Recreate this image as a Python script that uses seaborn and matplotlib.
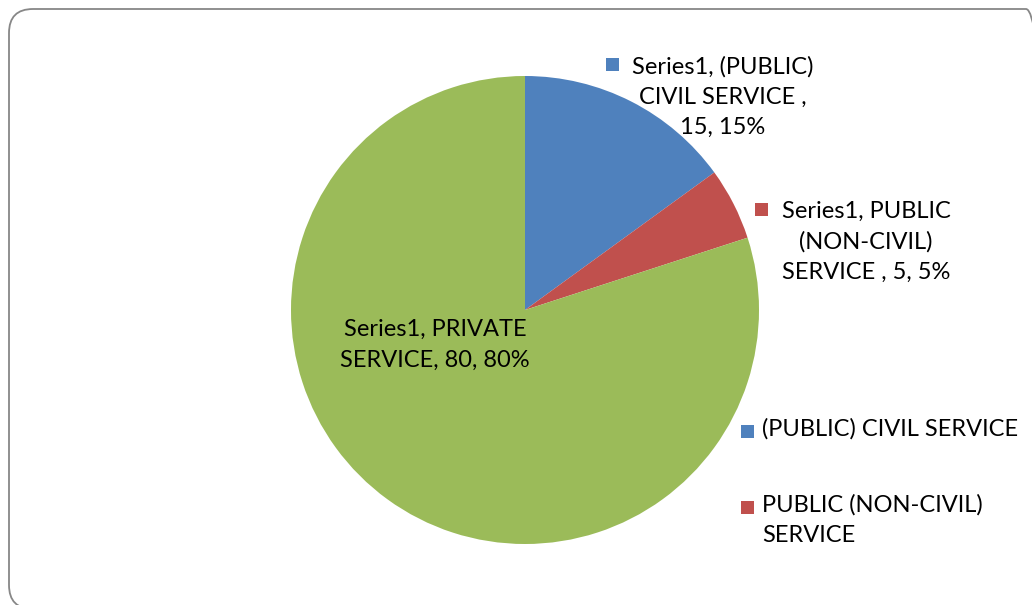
import matplotlib
matplotlib.use("Agg")
import matplotlib.pyplot as plt
import seaborn as sns
from matplotlib.patches import FancyBboxPatch, Rectangle

sns.set_theme(style="white")
plt.rcParams['font.family'] = ['Lato', 'DejaVu Sans']

categories = ["(PUBLIC) CIVIL SERVICE", "PUBLIC (NON-CIVIL) SERVICE", "PRIVATE SERVICE"]
values = [15, 5, 80]
series_name = "Series1"
colors = ["#4F81BD", "#C0504D", "#9BBB59"]

W, H = 1032, 605
fig = plt.figure(figsize=(W / 100, H / 100), dpi=100)
fig.patch.set_facecolor("white")

# background axes in pixel coordinates (y measured upward) for the border
bg = fig.add_axes([0, 0, 1, 1], zorder=0)
bg.set_xlim(0, W)
bg.set_ylim(0, H)
bg.axis("off")
left, top_px, right, bottom_px = 9, 9, 1050, 609
bg.add_patch(FancyBboxPatch((left, H - bottom_px), right - left, bottom_px - top_px,
                            boxstyle="round,pad=0,rounding_size=24",
                            fill=False, edgecolor="#878787", linewidth=1.3,
                            clip_on=True))

cx, cy, r = 525, 310, 234
ax = fig.add_axes([(cx - r) / W, 1 - (cy + r) / H, 2 * r / W, 2 * r / H], zorder=1)
wedges, _ = ax.pie(values, colors=colors, startangle=90, counterclock=False,
                   wedgeprops=dict(linewidth=0), radius=1)
ax.set_xlim(-1, 1)
ax.set_ylim(-1, 1)
ax.set_aspect("equal")
ax.axis("off")

top = fig.add_axes([0, 0, 1, 1], zorder=2)
top.set_xlim(0, W)
top.set_ylim(H, 0)
top.axis("off")
top.patch.set_alpha(0)

total = sum(values)
fs = 17
ls = 1.55
pct = [round(v * 100 / total) for v in values]

def marker(x, y, c):
    top.add_patch(Rectangle((x - 6.5, y - 6.5), 13, 13, color=c, linewidth=0))

# data labels
lab_blue = f"{series_name}, (PUBLIC)\nCIVIL SERVICE ,\n{values[0]}, {pct[0]}%"
top.text(723, 97, lab_blue, ha="center", va="center", fontsize=fs,
         linespacing=ls, color="black")
marker(612, 64, colors[0])

lab_red = f"{series_name}, PUBLIC\n(NON-CIVIL)\nSERVICE , {values[1]}, {pct[1]}%"
top.text(866, 242, lab_red, ha="center", va="center", fontsize=fs,
         linespacing=ls, color="black")
marker(761, 209, colors[1])

lab_green = f"{series_name}, PRIVATE\nSERVICE, {values[2]}, {pct[2]}%"
top.text(435, 345, lab_green, ha="center", va="center", fontsize=fs,
         linespacing=ls, color="black")

# legend (only the first two entries fit in the visible area)
leg_y = [431, 507]
leg_labels = ["(PUBLIC) CIVIL SERVICE", "PUBLIC (NON-CIVIL)\nSERVICE"]
for i, (y, lab) in enumerate(zip(leg_y, leg_labels)):
    marker(747, y, colors[i])
    top.text(762, y - 13, lab, ha="left", va="top", fontsize=fs,
             linespacing=ls, color="black")

fig.savefig("out.png", dpi=100, facecolor="white")
